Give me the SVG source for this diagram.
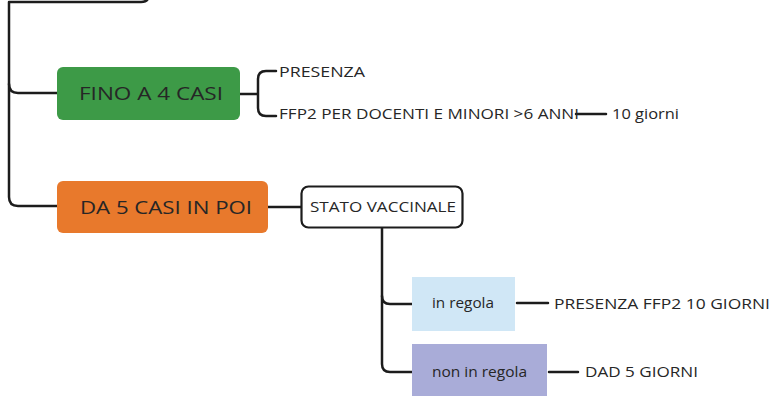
<svg xmlns="http://www.w3.org/2000/svg" width="773" height="396" viewBox="0 0 773 396">
<style>
.c{fill:none;stroke:#1c1c1c;stroke-width:2.5;stroke-linecap:round;stroke-linejoin:round}
.t{font-family:"Open Sans","Noto Sans",sans-serif;fill:#262626}
.big{font-size:19px}
.sm{font-size:15px}
</style>
<rect width="773" height="396" fill="#ffffff"/>
<g id="connectors">
<path class="c" d="M149 -6 Q149 2 141 2 L9 2 L9 197 Q9 206 18 206 L57 206"/>
<path class="c" d="M9 84 Q9 93 18 93 L57 93"/>
<path class="c" d="M240 94 L257 94"/>
<path class="c" d="M276 71 L266 71 Q258 71 258 79 L258 108 Q258 116 266 116 L276 116"/>
<path class="c" d="M576 114 L606 114"/>
<path class="c" d="M268 207 L301 207"/>
<path class="c" d="M382 228 L382 296 Q382 304 390 304 L412 304"/>
<path class="c" d="M382 296 L382 364 Q382 372 390 372 L412 372"/>
<path class="c" d="M517 303 L548 303"/>
<path class="c" d="M549 372 L578 372"/>
</g>
<g id="n-fino">
<rect x="57" y="67" width="183" height="53" rx="6" fill="#3d9a47"/>
<text class="t big" x="79" y="100" textLength="144" lengthAdjust="spacingAndGlyphs">FINO A 4 CASI</text>
</g>
<g id="n-presenza">
<text class="t sm" x="279" y="77" textLength="86" lengthAdjust="spacingAndGlyphs">PRESENZA</text>
</g>
<g id="n-ffp2">
<text class="t sm" x="279" y="119" textLength="300" lengthAdjust="spacingAndGlyphs">FFP2 PER DOCENTI E MINORI &gt;6 ANNI</text>
</g>
<g id="n-10giorni">
<text class="t sm" x="612" y="119" textLength="67" lengthAdjust="spacingAndGlyphs">10 giorni</text>
</g>
<g id="n-da5">
<rect x="57" y="181" width="211" height="52" rx="6" fill="#e8792c"/>
<text class="t big" x="80" y="214" textLength="172" lengthAdjust="spacingAndGlyphs">DA 5 CASI IN POI</text>
</g>
<g id="n-stato">
<rect x="301.5" y="186.5" width="161" height="41" rx="7" fill="#ffffff" stroke="#1c1c1c" stroke-width="2.2"/>
<text class="t sm" x="310" y="212" textLength="146" lengthAdjust="spacingAndGlyphs">STATO VACCINALE</text>
</g>
<g id="n-inregola">
<rect x="412" y="277" width="103" height="54" fill="#d0e7f6"/>
<text class="t sm" x="432" y="308" textLength="62" lengthAdjust="spacingAndGlyphs">in regola</text>
</g>
<g id="n-presenzaffp2">
<text class="t sm" x="554" y="309" textLength="216" lengthAdjust="spacingAndGlyphs">PRESENZA FFP2 10 GIORNI</text>
</g>
<g id="n-noninregola">
<rect x="412" y="344" width="135" height="54" fill="#a9acd8"/>
<text class="t sm" x="432" y="377" textLength="95" lengthAdjust="spacingAndGlyphs">non in regola</text>
</g>
<g id="n-dad">
<text class="t sm" x="585" y="377" textLength="113" lengthAdjust="spacingAndGlyphs">DAD 5 GIORNI</text>
</g>
</svg>
